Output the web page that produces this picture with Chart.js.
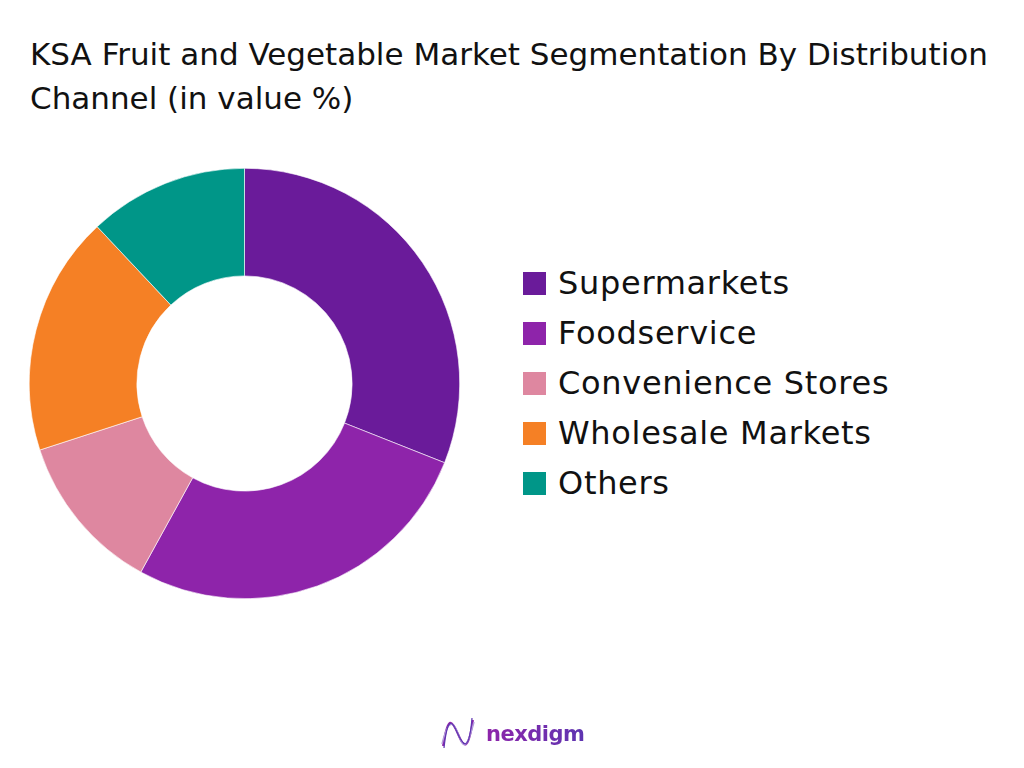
<!DOCTYPE html>
<html>
<head>
<meta charset="utf-8">
<script src="https://cdn.jsdelivr.net/npm/chart.js@4/dist/chart.umd.min.js"></script>
<style>
  html, body { margin: 0; padding: 0; background: #fff; }
  #page { position: relative; width: 1024px; height: 768px; overflow: hidden; font-family: "DejaVu Sans", sans-serif; }
  #title { position: absolute; left: 30px; top: 32px; font-size: 31px; line-height: 44px; color: #111; letter-spacing: 0px; white-space: nowrap; }
  #chartBox { position: absolute; left: 29px; top: 168px; width: 431px; height: 431px; }
  #legend { position: absolute; left: 523px; top: 258px; }
  .item { position: absolute; left: 0; height: 50px; display: flex; align-items: center; white-space: nowrap; }
  .sw { width: 23px; height: 23px; margin-right: 12px; }
  .lbl { font-size: 32px; color: #111; letter-spacing: 0.7px; }
  #logo { position: absolute; left: 440px; top: 716px; display: flex; align-items: center; }
  #logo span { font-family: "DejaVu Sans", sans-serif; font-weight: bold; font-size: 21px; color: #7b1fa2; margin-left: 10px; letter-spacing: -0.5px;
    background: linear-gradient(90deg, #8e24aa, #5e35b1); -webkit-background-clip: text; background-clip: text; -webkit-text-fill-color: transparent; }
</style>
</head>
<body>
<div id="page">
  <div id="title">KSA Fruit and Vegetable Market Segmentation By Distribution<br>Channel (in value %)</div>
  <div id="chartBox"><canvas id="c"></canvas></div>
  <div id="legend"></div>
  <div id="logo">
    <svg width="36" height="36" viewBox="0 0 36 36">
      <path d="M3 30 C 8 -2, 12 4, 18 18 S 28 36, 33 4" fill="none" stroke="#8e24aa" stroke-width="2"/>
      <path d="M2 28 C 9 0, 14 6, 19 20 S 27 32, 34 6" fill="none" stroke="#b39ddb" stroke-width="1.5"/>
      <path d="M4 32 C 7 4, 11 2, 17 16 S 29 38, 32 2" fill="none" stroke="#5e35b1" stroke-width="1.2"/>
    </svg>
    <span>nexdigm</span>
  </div>
</div>
<script>
const categories = ["Supermarkets", "Foodservice", "Convenience Stores", "Wholesale Markets", "Others"];
const values = [31, 27, 12, 18, 12];
const colors = ["#6a1b9a", "#8e24aa", "#de87a0", "#f58025", "#009688"];

new Chart(document.getElementById("c"), {
  type: "doughnut",
  data: {
    labels: categories,
    datasets: [{ data: values, backgroundColor: colors, borderColor: "#ffffff", borderWidth: 0.6 }]
  },
  options: {
    responsive: true,
    maintainAspectRatio: false,
    animation: false,
    cutout: "50%",
    layout: { padding: 0 },
    plugins: { legend: { display: false }, tooltip: { enabled: false }, title: { display: false } }
  }
});

const legend = document.getElementById("legend");
categories.forEach((name, i) => {
  const it = document.createElement("div");
  it.className = "item";
  it.style.top = (i * 50) + "px";
  it.innerHTML = '<div class="sw" style="background:' + colors[i] + '"></div><div class="lbl">' + name + '</div>';
  legend.appendChild(it);
});
</script>
</body>
</html>
